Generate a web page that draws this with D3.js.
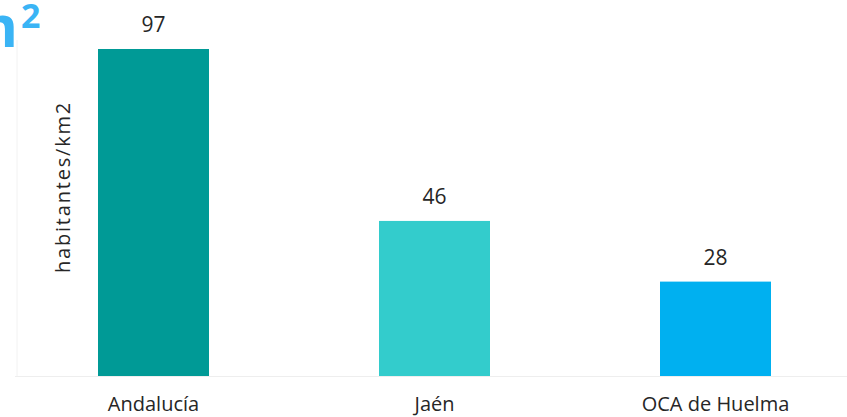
<!DOCTYPE html>
<html lang="es">
<head>
    <meta charset="UTF-8">
    <title>Densidad de población</title>
    <script src="https://cdn.jsdelivr.net/npm/d3@7/dist/d3.min.js"></script>
    <style>
        body { margin: 0; background: #fff; }
        text { font-family: "Open Sans", "Noto Sans", sans-serif; fill: #262626; }
    </style>
</head>
<body>
    <svg width="847" height="417" id="chart"></svg>
    <script>
        const categories = ["Andalucía", "Jaén", "OCA de Huelma"];
        const values = [97, 46, 28];
        const barColors = ["#009a96", "#33cccc", "#00b0f0"];

        const svg = d3.select("#chart");

        const x = d3.scaleBand()
            .domain(categories)
            .range([13, 856])
            .paddingInner(0.605)
            .paddingOuter(0.3025);

        const y = d3.scaleLinear()
            .domain([0, 97])
            .range([376, 49]);

        // faint plot area border
        svg.append("line")
            .attr("x1", 17).attr("x2", 17)
            .attr("y1", 40).attr("y2", 376)
            .attr("stroke", "#f2f2f2");

        svg.append("line")
            .attr("x1", 15).attr("x2", 847)
            .attr("y1", y(0) + 0.5).attr("y2", y(0) + 0.5)
            .attr("stroke", "#eeeeee");

        // title fragment, cut by the left edge as in the original
        svg.append("text")
            .attr("x", 18).attr("y", 47)
            .attr("text-anchor", "end")
            .attr("font-weight", "bold")
            .attr("font-size", 58)
            .style("fill", "#3ab4f5")
            .text("km");
        svg.append("text")
            .attr("x", 21).attr("y", 28)
            .attr("font-weight", "bold")
            .attr("font-size", 34)
            .style("fill", "#3ab4f5")
            .text("2");

        svg.selectAll(".bar")
            .data(values)
            .enter().append("rect")
            .attr("class", "bar")
            .attr("x", (d, i) => x(categories[i]))
            .attr("width", x.bandwidth())
            .attr("y", d => y(d))
            .attr("height", d => y(0) - y(d))
            .attr("fill", (d, i) => barColors[i]);

        svg.selectAll(".val")
            .data(values)
            .enter().append("text")
            .attr("class", "val")
            .attr("x", (d, i) => x(categories[i]) + x.bandwidth() / 2)
            .attr("y", d => y(d) - 17)
            .attr("text-anchor", "middle")
            .attr("font-size", 21)
            .text(d => d);

        const xAxis = d3.axisBottom(x).tickSize(0).tickPadding(21);
        svg.append("g")
            .attr("transform", `translate(0,${y(0)})`)
            .call(xAxis)
            .call(g => g.select(".domain").remove())
            .selectAll("text")
            .attr("font-size", 20)
            .style("font-family", "'Open Sans', 'Noto Sans', sans-serif")
            .style("fill", "#262626");

        svg.append("text")
            .attr("transform", "rotate(-90)")
            .attr("x", -187)
            .attr("y", 70)
            .attr("text-anchor", "middle")
            .attr("font-size", 20)
            .attr("letter-spacing", 1.8)
            .text("habitantes/km2");
    </script>
</body>
</html>
